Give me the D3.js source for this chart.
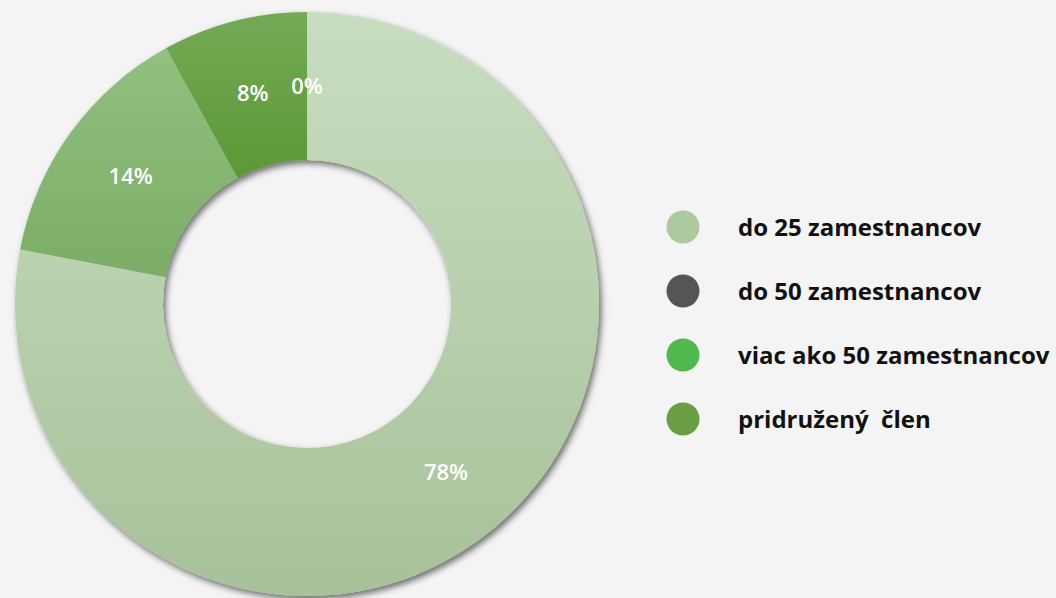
<!DOCTYPE html>
<html>
<head>
<meta charset="utf-8">
<script src="https://cdn.jsdelivr.net/npm/d3@7"></script>
<style>
  html, body { margin: 0; padding: 0; background: #f4f4f4; }
  svg { display: block; }
</style>
</head>
<body>
<svg id="chart" width="1056" height="598"></svg>
<script>
// Data
const categories = ["do 25 zamestnancov", "do 50 zamestnancov", "viac ako 50 zamestnancov", "pridružený  člen"];
const legendColors = ["#adc9a0", "#555555", "#50b84c", "#6a9e44"];
const sliceLabels = ["78%", "14%", "8%", "0%"];
const sliceValues = [78, 14, 8, 0];
const sliceTopColors = ["#c8ddbf", "#92c080", "#74aa57"];
const sliceBottomColors = ["#a7c29a", "#7aad66", "#5b9834"];

const W = 1056, H = 598;
const cx = 307, cy = 304, outerR = 292, innerR = 144;

const svg = d3.select("#chart");
svg.append("rect").attr("width", W).attr("height", H).attr("fill", "#f4f4f4");

const defs = svg.append("defs");
const f = defs.append("filter").attr("id", "shadow")
  .attr("x", "-10%").attr("y", "-10%").attr("width", "120%").attr("height", "120%");
f.append("feDropShadow").attr("dx", 2.5).attr("dy", 3.5).attr("stdDeviation", 3)
  .attr("flood-color", "#000").attr("flood-opacity", 0.55);

sliceTopColors.forEach((c, i) => {
  const g = defs.append("linearGradient").attr("id", "grad" + i)
    .attr("x1", 0).attr("y1", 0).attr("x2", 0).attr("y2", 1);
  g.append("stop").attr("offset", "0%").attr("stop-color", c);
  g.append("stop").attr("offset", "100%").attr("stop-color", sliceBottomColors[i]);
});

const pie = d3.pie().sort(null).value(d => d)(sliceValues);
const arc = d3.arc().innerRadius(innerR).outerRadius(outerR);
const labelArc = d3.arc().innerRadius((innerR + outerR) / 2).outerRadius((innerR + outerR) / 2);

const g = svg.append("g").attr("transform", `translate(${cx},${cy})`);
const slices = g.append("g").attr("filter", "url(#shadow)");
slices.selectAll("path")
  .data(pie.filter(d => d.value > 0))
  .join("path")
  .attr("d", arc)
  .attr("fill", (d, i) => `url(#grad${i})`);

g.selectAll("text.lbl")
  .data(pie)
  .join("text")
  .attr("class", "lbl")
  .attr("transform", d => `translate(${labelArc.centroid(d)})`)
  .attr("text-anchor", "middle")
  .attr("dy", "0.36em")
  .attr("fill", "#ffffff")
  .attr("font-family", "'Open Sans', sans-serif")
  .attr("font-weight", 600)
  .attr("font-size", 22)
  .text((d, i) => sliceLabels[i]);

// Legend
const legY = d3.scalePoint().domain(categories).range([227, 419]);
const leg = svg.append("g");
const items = leg.selectAll("g").data(categories).join("g")
  .attr("transform", d => `translate(0,${legY(d)})`);
items.append("circle").attr("cx", 683).attr("cy", 0).attr("r", 16.5)
  .attr("fill", (d, i) => legendColors[i]);
items.append("text")
  .attr("x", 738).attr("y", 0).attr("dy", "0.36em")
  .attr("font-family", "'Open Sans', sans-serif")
  .attr("font-weight", "bold")
  .attr("font-size", 24)
  .attr("fill", "#111")
  .style("white-space", "pre")
  .text(d => d);
</script>
</body>
</html>
